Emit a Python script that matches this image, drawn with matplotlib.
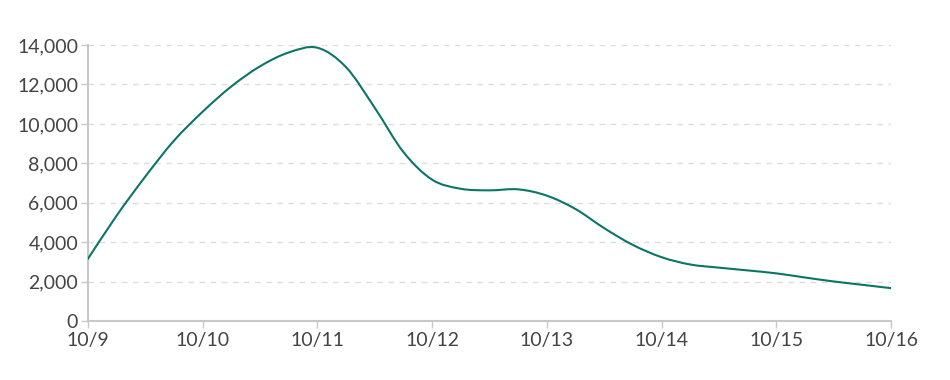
import numpy as np
import matplotlib.pyplot as plt
from matplotlib.path import Path
from matplotlib.patches import PathPatch

# readings every 6 hours, 10/9 00:00 to 10/16 00:00
days = [0, 0.25, 0.5, 0.75, 1, 1.25, 1.5, 1.75, 2, 2.25, 2.5, 2.75, 3, 3.25, 3.5,
        3.75, 4, 4.25, 4.5, 4.75, 5, 5.25, 5.5, 5.75, 6, 6.25, 6.5, 6.75, 7]
values = [3160, 5350, 7330, 9150, 10620, 11900, 12920, 13620, 13860, 12870, 10810,
          8570, 7170, 6710, 6630, 6680, 6360, 5680, 4710, 3860, 3240, 2870, 2710,
          2570, 2420, 2210, 2010, 1840, 1670]
tick_pos = [0, 1, 2, 3, 4, 5, 6, 7]
tick_labels = ['10/9', '10/10', '10/11', '10/12', '10/13', '10/14', '10/15', '10/16']
y_ticks = [0, 2000, 4000, 6000, 8000, 10000, 12000, 14000]

plt.rcParams['font.family'] = ['Lato', 'DejaVu Sans']

fig = plt.figure(figsize=(9.5, 3.8), dpi=100)
ax = fig.add_axes([0.0926, 0.155, 0.8454, 0.7266])

# smooth curve through the points (Catmull-Rom as cubic Bezier segments)
x = np.array(days, dtype=float)
y = np.array(values, dtype=float)
verts = [(x[0], y[0])]
codes = [Path.MOVETO]
for i in range(len(x) - 1):
    i0 = max(i - 1, 0)
    i3 = min(i + 2, len(x) - 1)
    c1 = (x[i] + (x[i + 1] - x[i0]) / 6, y[i] + (y[i + 1] - y[i0]) / 6)
    c2 = (x[i + 1] - (x[i3] - x[i]) / 6, y[i + 1] - (y[i3] - y[i]) / 6)
    verts += [c1, c2, (x[i + 1], y[i + 1])]
    codes += [Path.CURVE4] * 3
ax.add_patch(PathPatch(Path(verts, codes), facecolor='none', edgecolor='#0b7566',
                       lw=1.5, capstyle='round', joinstyle='round', zorder=3))

ax.set_xlim(0, 7)
ax.set_ylim(0, 14000)
ax.set_xticks(tick_pos)
ax.set_xticklabels(tick_labels)
ax.set_yticks(y_ticks)
ax.set_yticklabels(['{:,}'.format(v) for v in y_ticks])

ax.grid(axis='y', color='#dddddd', linestyle=(0, (4, 4)), linewidth=1)
ax.set_axisbelow(True)
for s in ['top', 'right']:
    ax.spines[s].set_visible(False)
for s in ['left', 'bottom']:
    ax.spines[s].set_color('#c8c8c8')
    ax.spines[s].set_linewidth(1.5)
ax.tick_params(colors='#c8c8c8', labelcolor='#444444', labelsize=14, length=5, width=1)
ax.tick_params(axis='x', pad=3)
ax.tick_params(axis='y', pad=2)

fig.savefig('out.png', dpi=100)
